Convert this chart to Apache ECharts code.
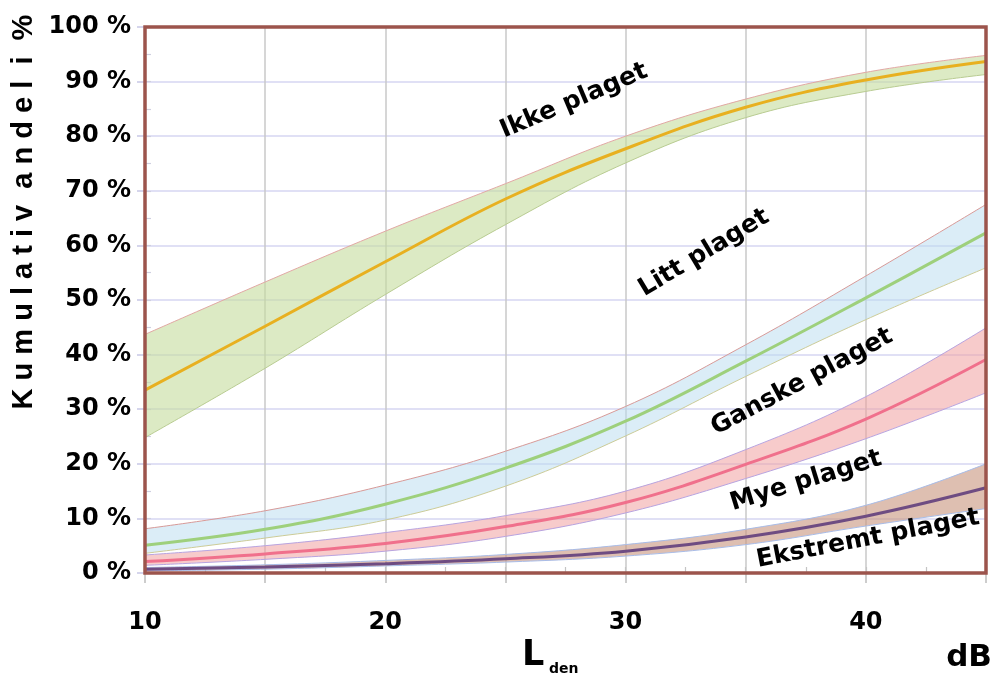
<!DOCTYPE html>
<html>
<head>
<meta charset="utf-8">
<script src="https://cdn.jsdelivr.net/npm/echarts@6/dist/echarts.min.js"></script>
<style>
  html, body { margin: 0; padding: 0; background: #ffffff; }
  #chart { width: 993px; height: 675px; }
</style>
</head>
<body>
<div id="chart"></div>
<script>
// Noise level L_den (dB)
const levels = [10, 15, 20, 25, 30, 35, 40, 45];

// Cumulative share (%) for each annoyance threshold: estimate and confidence band
const ikkeMid   = [33.5, 45.2, 57.0, 68.5, 77.7, 85.3, 90.3, 93.7];
const ikkeUpper = [43.7, 53.3, 62.6, 71.3, 80.0, 86.8, 91.7, 94.8];
const ikkeLower = [24.8, 37.5, 51.0, 63.8, 75.1, 83.4, 88.2, 91.3];

const littMid   = [5.1, 8.0, 12.6, 19.2, 27.8, 38.8, 50.4, 62.3];
const littUpper = [8.1, 11.4, 16.1, 22.3, 30.5, 41.8, 54.4, 67.5];
const littLower = [3.6, 6.4, 9.7, 15.9, 25.1, 36.0, 46.4, 55.9];

const ganskeMid   = [2.1, 3.5, 5.4, 8.5, 12.9, 19.9, 28.2, 39.1];
const ganskeUpper = [3.3, 5.0, 7.4, 10.5, 15.0, 22.6, 32.3, 44.9];
const ganskeLower = [1.4, 2.5, 4.0, 6.7, 11.0, 17.3, 24.6, 33.0];

const myeMid   = [0.7, 1.1, 1.7, 2.6, 4.0, 6.6, 10.4, 15.6];
const myeUpper = [1.0, 1.5, 2.3, 3.4, 5.2, 8.0, 12.4, 20.0];
const myeLower = [0.4, 0.7, 1.3, 2.0, 3.1, 5.2, 8.6, 11.8];

// Axis tick labels
const xTickValues = [10, 20, 30, 40];
const yTickSuffix = ' %';

// Region labels between the curves
const regionLabels = ['Ikke plaget', 'Litt plaget', 'Ganske plaget', 'Mye plaget', 'Ekstremt plaget'];

function bandSeries(key, lower, upper, fill, fillOpacity, lowerEdge, upperEdge) {
  return [
    {
      type: 'line', stack: key, smooth: 0.4, symbol: 'none', silent: true,
      data: lower.slice(),
      lineStyle: { color: lowerEdge, width: 1 },
      z: 2
    },
    {
      type: 'line', stack: key, smooth: 0.4, symbol: 'none', silent: true,
      data: upper.map((u, i) => +(u - lower[i]).toFixed(3)),
      lineStyle: { color: upperEdge, width: 1 },
      areaStyle: { color: fill, opacity: fillOpacity },
      z: 2
    }
  ];
}

function midSeries(values, color) {
  return {
    type: 'line', smooth: 0.4, symbol: 'none', silent: true,
    data: values.slice(),
    lineStyle: { color: color, width: 3 },
    z: 3
  };
}

const labelFont = 'bold 25px "DejaVu Sans", sans-serif';
function regionLabel(text, x, y, deg) {
  return {
    type: 'text', x: x, y: y, rotation: deg * Math.PI / 180, z: 10,
    style: { text: text, font: labelFont, fill: '#000', align: 'center', verticalAlign: 'middle' }
  };
}

const chart = echarts.init(document.getElementById('chart'), null, { renderer: 'canvas' });

chart.setOption({
  animation: false,
  backgroundColor: '#ffffff',
  grid: {
    z: 5,
    left: 145, right: 7, top: 27, bottom: 102,
    show: true, borderColor: '#9c544c', borderWidth: 3.5, backgroundColor: 'transparent'
  },
  xAxis: [
    {
      type: 'category', boundaryGap: false,
      data: levels.map(String),
      axisLine: { show: false },
      axisTick: { show: true, interval: 0, length: 10, lineStyle: { color: '#bdbdbd', width: 1.5 } },
      splitLine: { show: true, interval: 0, lineStyle: { color: '#c9c9c9', width: 1.5 } },
      axisLabel: {
        interval: 0, margin: 38, color: '#000', fontFamily: 'DejaVu Sans', fontWeight: 'bold', fontSize: 24,
        formatter: v => (xTickValues.indexOf(Number(v)) >= 0 ? String(v) : '')
      }
    },
    {
      type: 'value', position: 'bottom', min: 10, max: 45, interval: 2.5,
      axisLine: { show: false },
      axisTick: { show: true, inside: true, length: 6, lineStyle: { color: '#c4c4c4', width: 1.2 } },
      splitLine: { show: false },
      axisLabel: { show: false }
    }
  ],
  yAxis: [
    {
      type: 'value', min: 0, max: 100, interval: 10,
      axisLine: { show: false },
      axisTick: { show: true, length: 8, lineStyle: { color: '#c8c8e6', width: 1.5 } },
      splitLine: { show: true, lineStyle: { color: '#d6d6f2', width: 1.5 } },
      axisLabel: {
        margin: 14, color: '#000', fontFamily: 'DejaVu Sans', fontWeight: 'bold', fontSize: 24,
        padding: [0, 0, 6, 0],
        formatter: v => v + yTickSuffix
      }
    },
    {
      type: 'value', position: 'left', min: 0, max: 100, interval: 5,
      axisLine: { show: false },
      axisTick: { show: true, inside: true, length: 6, lineStyle: { color: '#cfcfe0', width: 1.2 } },
      splitLine: { show: false },
      axisLabel: { show: false }
    }
  ],
  series: [
    ...bandSeries('ikke', ikkeLower, ikkeUpper, '#c4dc9c', 0.6, '#b9cc92', '#e2a8a4'),
    ...bandSeries('litt', littLower, littUpper, '#b8dcef', 0.5, '#cccc98', '#d89a98'),
    ...bandSeries('ganske', ganskeLower, ganskeUpper, '#f0a0a0', 0.55, '#b8a4e0', '#b8a4e0'),
    ...bandSeries('mye', myeLower, myeUpper, '#c8957d', 0.6, '#a8bce8', '#a8bce8'),
    midSeries(ikkeMid, '#e8b020'),
    midSeries(littMid, '#9ed07c'),
    midSeries(ganskeMid, '#f0708c'),
    midSeries(myeMid, '#6e4c82')
  ],
  graphic: [
    regionLabel(regionLabels[0], 574, 101, 23),
    regionLabel(regionLabels[1], 704, 253, 31),
    regionLabel(regionLabels[2], 802, 382, 28),
    regionLabel(regionLabels[3], 806, 481, 17),
    regionLabel(regionLabels[4], 868, 539, 11),
    {
      type: 'text', x: 24, y: 212, rotation: Math.PI / 2, z: 10,
      style: {
        text: 'K u m u l a t i v  a n d e l  i  %',
        font: 'bold 29px "Liberation Sans", Arial, sans-serif',
        fill: '#000', align: 'center', verticalAlign: 'middle'
      }
    },
    {
      type: 'text', x: 522, y: 656, z: 10,
      style: { text: 'L', font: 'bold 35px "DejaVu Sans", sans-serif', fill: '#000', align: 'left', verticalAlign: 'middle' }
    },
    {
      type: 'text', x: 549, y: 669, z: 10,
      style: { text: 'den', font: 'bold 14px "DejaVu Sans", sans-serif', fill: '#000', align: 'left', verticalAlign: 'middle' }
    },
    {
      type: 'text', x: 992, y: 658, z: 10,
      style: { text: 'dB', font: 'bold 31px "DejaVu Sans", sans-serif', fill: '#000', align: 'right', verticalAlign: 'middle' }
    }
  ]
});
</script>
</body>
</html>
